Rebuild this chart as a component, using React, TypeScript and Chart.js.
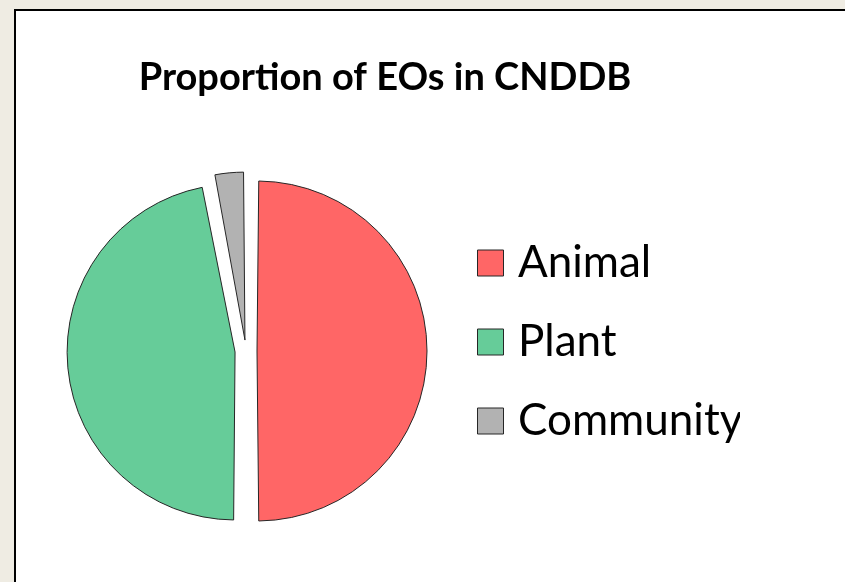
import React, { useEffect, useRef } from "react";
import { Chart, registerables } from "chart.js";

Chart.register(...registerables);

const categories = ["Animal", "Plant", "Community"];
const shares = [50, 47, 3];
const sliceColors = ["#FF6666", "#66CC99", "#B2B2B2"];
const chartTitle = "Proportion of EOs in CNDDB";

const backdrop = {
  id: "backdrop",
  beforeDraw(chart: any) {
    const { ctx, width, height } = chart;
    ctx.save();
    ctx.fillStyle = "#efece3";
    ctx.fillRect(0, 0, width, height);
    ctx.fillStyle = "#000";
    ctx.fillRect(14, 9, width, height);
    ctx.fillStyle = "#fff";
    ctx.fillRect(16, 11, width, height);
    ctx.restore();
  },
};

export default function App() {
  const ref = useRef<HTMLCanvasElement>(null);
  useEffect(() => {
    const chart = new Chart(ref.current as HTMLCanvasElement, {
      type: "pie",
      data: {
        labels: categories,
        datasets: [
          {
            data: shares,
            backgroundColor: sliceColors,
            borderColor: "#262626",
            borderWidth: 1,
            offset: 44,
            hoverOffset: 0,
          },
        ],
      },
      options: {
        responsive: false,
        animation: false,
        layout: { padding: { left: 30, right: 105, top: 0, bottom: 49.5 } },
        plugins: {
          title: {
            display: true,
            text: chartTitle,
            color: "#000",
            font: { family: "Lato", size: 38, weight: "bold", lineHeight: 1.2 },
            padding: { top: 55.2, bottom: 68.7 },
          },
          subtitle: {
            display: true,
            position: "left",
            fullSize: false,
            text: " ",
            font: { size: 10, lineHeight: 1 },
            padding: { top: 2, bottom: 0 },
          },
          legend: {
            position: "right",
            align: "start",
            fullSize: false,
            maxWidth: 290,
            title: {
              display: true,
              text: " ",
              font: { size: 10, lineHeight: 1 },
              padding: { top: 26.5, bottom: 0 },
            },
            labels: {
              usePointStyle: true,
              pointStyle: "rect",
              boxWidth: 11,
              boxHeight: 26,
              padding: 35,
              color: "#000",
              font: { family: "Lato", size: 44 },
            },
          },
          tooltip: { enabled: false },
        },
      },
      plugins: [backdrop],
    } as any);
    return () => chart.destroy();
  }, []);
  return (
    <div style={{ position: "fixed", left: 0, top: 0 }}>
      <canvas ref={ref} width={845} height={582} style={{ display: "block" }} />
    </div>
  );
}
